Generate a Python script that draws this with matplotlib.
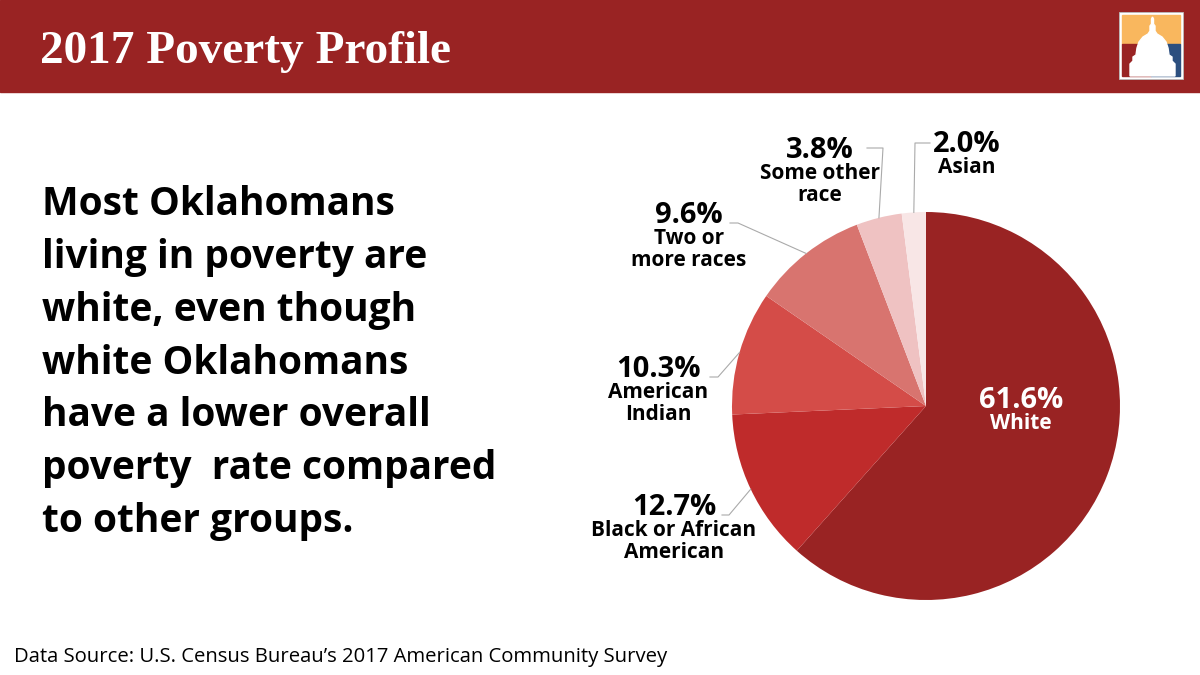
import matplotlib
matplotlib.use("Agg")
import matplotlib.pyplot as plt
import numpy as np
from matplotlib.patches import Rectangle, Polygon

# data (share of Oklahomans in poverty, by race)
groups = ["White", "Black or African\nAmerican", "American\nIndian",
          "Two or\nmore races", "Some other\nrace", "Asian"]
shares = [61.6, 12.7, 10.3, 9.6, 3.8, 2.0]
colors = ["#992323", "#BF2B2B", "#D44C48", "#D8746F", "#EFC2C2", "#F8E6E6"]

title = "2017 Poverty Profile"
message = ("Most Oklahomans\nliving in poverty are\nwhite, even though\n"
           "white Oklahomans\nhave a lower overall\npoverty  rate compared\n"
           "to other groups.")
source = "Data Source: U.S. Census Bureau\u2019s 2017 American Community Survey"

# label placement for the small slices:
# (text centre x, percent baseline y, leader start x, leader elbow x, leader y)
label_pos = {
    1: (674, 515, 722, 729, 515),
    2: (658, 377, 710, 718, 377),
    3: (689, 223, 730, 738, 223),
    4: (820, 158, 867, 883, 148),
    5: (967, 152, 930, 915, 143),
}

header_red = "#992323"
sans = "Open Sans"

fig = plt.figure(figsize=(12, 6.75), dpi=100)
fig.patch.set_facecolor("white")

# background axes in pixel units
bg = fig.add_axes([0, 0, 1, 1])
bg.set_xlim(0, 1200)
bg.set_ylim(675, 0)
bg.axis("off")
bg.set_zorder(2)  # texts above the pie

bg.add_patch(Rectangle((0, 0), 1200, 92, color=header_red, zorder=0))
bg.text(40, 63, title, family="Liberation Serif", weight="bold", fontsize=34,
        color="white", va="baseline", ha="left")

# logo
bg.add_patch(Rectangle((1119, 12), 64, 67, facecolor="white", edgecolor="#bbbbbb", lw=0.6))
bg.add_patch(Rectangle((1122, 15), 58, 29, color="#F9B75E"))
bg.add_patch(Rectangle((1122, 44), 29, 32, color=header_red))
bg.add_patch(Rectangle((1151, 44), 29, 32, color="#2C4F7F"))
dome = [(1130, 76), (1130, 64), (1133, 61), (1133, 57), (1136, 55), (1137, 48),
        (1139, 42), (1143, 37), (1148, 34), (1150, 31), (1150, 26), (1151.5, 24),
        (1151.5, 19), (1152.5, 17), (1153.5, 19), (1153.5, 24), (1155, 26),
        (1155, 31), (1157, 34), (1162, 37), (1166, 42), (1168, 48), (1169, 55),
        (1172, 57), (1172, 61), (1175, 64), (1175, 76)]
bg.add_patch(Polygon(dome, closed=True, color="white"))

# multiline baseline = baseline of the last line here
bg.text(42, 532, message, family=sans, weight="bold", fontsize=28,
        color="black", va="baseline", ha="left", linespacing=1.46)

bg.text(14, 662, source, family=sans, fontsize=14.6, color="black",
        va="baseline", ha="left")

# pie
cx, cy, r = 926, 406, 194
pie_ax = fig.add_axes([(cx - r) / 1200, (675 - cy - r) / 675, 2 * r / 1200, 2 * r / 675])
pie_ax.set_zorder(1)
wedges, _ = pie_ax.pie(shares, colors=colors, startangle=90, counterclock=False,
                       radius=1, wedgeprops=dict(linewidth=0))
pie_ax.set_xlim(-1, 1)
pie_ax.set_ylim(-1, 1)
pie_ax.set_aspect("equal")
pie_ax.axis("off")


def slice_label(x, y, i, color):
    bg.text(x, y, f"{shares[i]:.1f}%", family=sans, weight="bold", fontsize=21,
            color=color, ha="center", va="baseline")
    for k, line in enumerate(groups[i].split("\n")):
        bg.text(x, y + 21 + 22 * k, line, family=sans, weight="bold", fontsize=15,
                color=color, ha="center", va="baseline")


# white label inside the big slice
slice_label(1021, 408, 0, "white")

to_bg = bg.transData.inverted()
for i, (tx, ty, sx, ex, ly) in label_pos.items():
    w = wedges[i]
    mid = np.deg2rad((w.theta1 + w.theta2) / 2)
    edge = to_bg.transform(pie_ax.transData.transform((np.cos(mid), np.sin(mid))))
    bg.plot([sx, ex, edge[0]], [ly, ly, edge[1]], color="#aaaaaa", lw=0.8, zorder=1)
    slice_label(tx, ty, i, "black")

fig.savefig("out.png", dpi=100)
